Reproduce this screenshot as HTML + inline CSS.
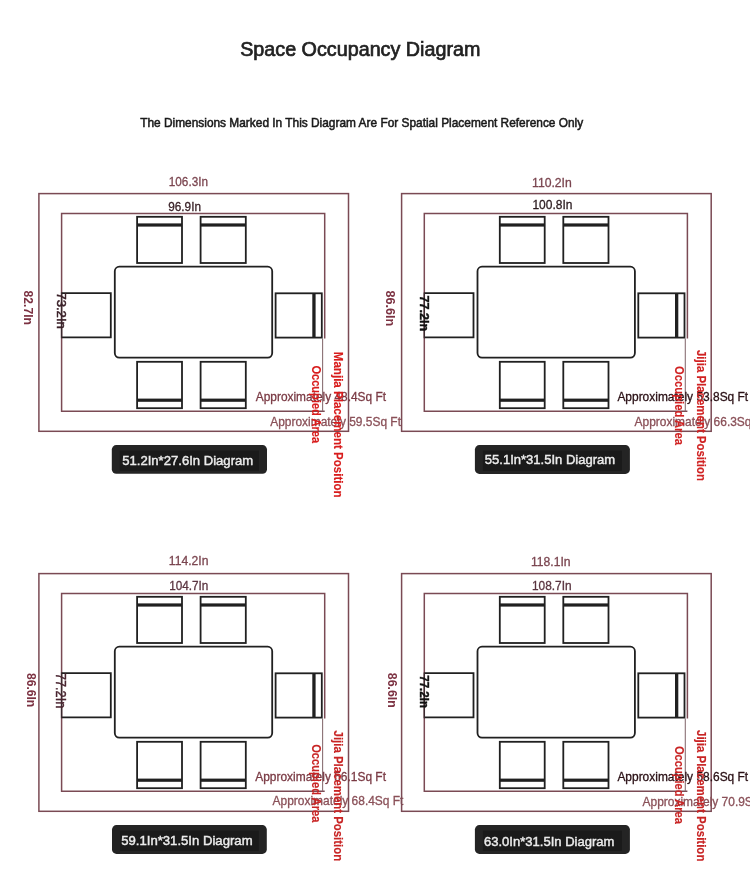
<!DOCTYPE html>
<html><head><meta charset="utf-8"><title>Space Occupancy Diagram</title>
<style>
html,body{margin:0;padding:0;background:#fff;}
body{width:750px;height:895px;overflow:hidden;}
svg{display:block;font-family:"Liberation Sans", sans-serif;will-change:transform;}
</style></head>
<body>
<svg width="750" height="895" viewBox="0 0 750 895">
<rect class="shape" x="0" y="0" width="750" height="895" fill="#ffffff"/>
<text id="title" class="t" x="240.20" y="55.70" font-size="19.91" fill="#222222" font-weight="normal" textLength="240.20" lengthAdjust="spacingAndGlyphs" stroke="#222222" stroke-width="0.7">Space Occupancy Diagram</text>
<text id="sub" class="t" x="140.20" y="126.80" font-size="12.79" fill="#1a1a1a" font-weight="normal" textLength="443.00" lengthAdjust="spacingAndGlyphs" stroke="#1a1a1a" stroke-width="0.55">The Dimensions Marked In This Diagram Are For Spatial Placement Reference Only</text>
<g class="shape"><rect x="38.90" y="193.60" width="309.6" height="237.7" fill="none" stroke="#7a4a54" stroke-width="1.5"/>
<path d="M324.70,338.50 V213.40 H61.60 V411.20 H324.70" fill="none" stroke="#7a4a54" stroke-width="1.5"/>
<line x1="322.60" y1="338.50" x2="322.60" y2="411.20" stroke="#8a7074" stroke-width="1.1"/><rect x="137.10" y="216.80" width="44.90" height="46.20" rx="0" fill="none" stroke="#202020" stroke-width="1.8"/>
<rect x="137.10" y="223.40" width="44.90" height="3.20" fill="#202020"/>
<rect x="200.60" y="216.80" width="45.20" height="46.20" rx="0" fill="none" stroke="#202020" stroke-width="1.8"/>
<rect x="200.60" y="223.40" width="45.20" height="3.20" fill="#202020"/>
<rect x="114.80" y="266.70" width="157.40" height="90.90" rx="4.5" fill="none" stroke="#202020" stroke-width="1.8"/>
<path d="M61.60,293.20 H110.80 V337.40 H61.60" fill="none" stroke="#202020" stroke-width="1.8" stroke-linejoin="miter"/>
<line x1="61.60" y1="292.40" x2="61.60" y2="338.20" stroke="#3a2a2e" stroke-width="1.4"/>
<rect x="275.60" y="293.30" width="46.20" height="44.30" rx="0" fill="none" stroke="#202020" stroke-width="1.8"/>
<rect x="312.30" y="293.30" width="3.30" height="44.30" fill="#202020"/>
<rect x="137.10" y="361.80" width="44.90" height="46.40" rx="0" fill="none" stroke="#202020" stroke-width="1.8"/>
<rect x="137.10" y="398.60" width="44.90" height="3.20" fill="#202020"/>
<rect x="200.60" y="361.80" width="45.20" height="46.40" rx="0" fill="none" stroke="#202020" stroke-width="1.8"/>
<rect x="200.60" y="398.60" width="45.20" height="3.20" fill="#202020"/></g>
<text id="p1_top" class="t" x="168.80" y="186.00" font-size="13.08" fill="#7b4650" font-weight="normal" textLength="39.20" lengthAdjust="spacingAndGlyphs" stroke="#7b4650" stroke-width="0.3">106.3In</text>
<text id="p1_inner" class="t" x="168.20" y="210.70" font-size="12.65" fill="#3a2228" font-weight="normal" textLength="32.80" lengthAdjust="spacingAndGlyphs" stroke="#3a2228" stroke-width="0.3">96.9In</text>
<text id="p1_left" class="t" transform="translate(23.80,290.60) rotate(90)" x="0" y="0" font-size="12.97" fill="#7c3242" font-weight="bold" textLength="34.40" lengthAdjust="spacingAndGlyphs">82.7In</text>
<text id="p1_ileft" class="t" transform="translate(57.00,292.40) rotate(90)" x="0" y="0" font-size="12.97" fill="#3a2028" font-weight="normal" textLength="36.40" lengthAdjust="spacingAndGlyphs" stroke="#3a2028" stroke-width="0.45">73.2In</text>
<text id="p1_ap1" class="t" x="255.80" y="400.80" font-size="12.79" fill="#7a3a44" font-weight="normal" textLength="130.20" lengthAdjust="spacingAndGlyphs" stroke="#7a3a44" stroke-width="0.3">Approximately 48.4Sq Ft</text>
<text id="p1_ap2" class="t" x="270.20" y="425.70" font-size="12.21" fill="#8a5058" font-weight="normal" textLength="130.80" lengthAdjust="spacingAndGlyphs" stroke="#8a5058" stroke-width="0.3">Approximately 59.5Sq Ft</text>
<text id="p1_occ" class="t" transform="translate(312.00,365.40) rotate(90)" x="0" y="0" font-size="12.69" fill="#d81c1c" font-weight="bold" textLength="77.80" lengthAdjust="spacingAndGlyphs" stroke="#d81c1c" stroke-width="0.15">Occupied Area</text>
<text id="p1_pos" class="t" transform="translate(334.00,351.80) rotate(90)" x="0" y="0" font-size="12.55" fill="#d81c1c" font-weight="bold" textLength="145.80" lengthAdjust="spacingAndGlyphs" stroke="#d81c1c" stroke-width="0.15">Manjia Placement Position</text>
<rect class="shape" x="111.80" y="445.10" width="155.20" height="28.70" rx="4.5" fill="#242424"/>
<rect class="shape" x="119.80" y="450.60" width="139.20" height="20.20" fill="#1a1a1a"/>
<text id="p1_btn" class="t" x="122.20" y="465.00" font-size="13.66" fill="#ececec" font-weight="normal" textLength="131.00" lengthAdjust="spacingAndGlyphs" stroke="#ececec" stroke-width="0.45">51.2In*27.6In Diagram</text>
<g class="shape"><rect x="401.60" y="193.60" width="309.6" height="237.7" fill="none" stroke="#7a4a54" stroke-width="1.5"/>
<path d="M687.40,338.50 V213.40 H424.30 V411.20 H687.40" fill="none" stroke="#7a4a54" stroke-width="1.5"/>
<line x1="685.30" y1="338.50" x2="685.30" y2="411.20" stroke="#8a7074" stroke-width="1.1"/><rect x="499.80" y="216.80" width="44.90" height="46.20" rx="0" fill="none" stroke="#202020" stroke-width="1.8"/>
<rect x="499.80" y="223.40" width="44.90" height="3.20" fill="#202020"/>
<rect x="563.30" y="216.80" width="45.20" height="46.20" rx="0" fill="none" stroke="#202020" stroke-width="1.8"/>
<rect x="563.30" y="223.40" width="45.20" height="3.20" fill="#202020"/>
<rect x="477.50" y="266.70" width="157.40" height="90.90" rx="4.5" fill="none" stroke="#202020" stroke-width="1.8"/>
<path d="M424.30,293.20 H473.50 V337.40 H424.30" fill="none" stroke="#202020" stroke-width="1.8" stroke-linejoin="miter"/>
<line x1="424.30" y1="292.40" x2="424.30" y2="338.20" stroke="#3a2a2e" stroke-width="1.4"/>
<rect x="638.30" y="293.30" width="46.20" height="44.30" rx="0" fill="none" stroke="#202020" stroke-width="1.8"/>
<rect x="675.00" y="293.30" width="3.30" height="44.30" fill="#202020"/>
<rect x="499.80" y="361.80" width="44.90" height="46.40" rx="0" fill="none" stroke="#202020" stroke-width="1.8"/>
<rect x="499.80" y="398.60" width="44.90" height="3.20" fill="#202020"/>
<rect x="563.30" y="361.80" width="45.20" height="46.40" rx="0" fill="none" stroke="#202020" stroke-width="1.8"/>
<rect x="563.30" y="398.60" width="45.20" height="3.20" fill="#202020"/></g>
<text id="p2_top" class="t" x="532.00" y="187.00" font-size="12.79" fill="#7b4650" font-weight="normal" textLength="39.80" lengthAdjust="spacingAndGlyphs" stroke="#7b4650" stroke-width="0.3">110.2In</text>
<text id="p2_inner" class="t" x="532.40" y="208.70" font-size="12.65" fill="#2a1a1e" font-weight="normal" textLength="40.00" lengthAdjust="spacingAndGlyphs" stroke="#2a1a1e" stroke-width="0.3">100.8In</text>
<text id="p2_left" class="t" transform="translate(386.00,290.40) rotate(90)" x="0" y="0" font-size="13.68" fill="#7c3242" font-weight="bold" textLength="35.80" lengthAdjust="spacingAndGlyphs">86.6In</text>
<text id="p2_ileft" class="t" transform="translate(420.00,295.40) rotate(90)" x="0" y="0" font-size="12.97" fill="#111111" font-weight="bold" textLength="35.80" lengthAdjust="spacingAndGlyphs" stroke="#111111" stroke-width="0.4">77.2In</text>
<text id="p2_ap1" class="t" x="617.40" y="401.00" font-size="12.50" fill="#2a1015" font-weight="normal" textLength="130.80" lengthAdjust="spacingAndGlyphs" stroke="#2a1015" stroke-width="0.3">Approximately 53.8Sq Ft</text>
<text id="p2_ap2" class="t" x="634.60" y="425.60" font-size="11.92" fill="#8a5058" font-weight="normal" textLength="130.80" lengthAdjust="spacingAndGlyphs" stroke="#8a5058" stroke-width="0.3">Approximately 66.3Sq Ft</text>
<text id="p2_occ" class="t" transform="translate(674.70,366.00) rotate(90)" x="0" y="0" font-size="12.69" fill="#d02222" font-weight="bold" textLength="79.00" lengthAdjust="spacingAndGlyphs" stroke="#d02222" stroke-width="0.15">Occupied Area</text>
<text id="p2_pos" class="t" transform="translate(696.70,350.00) rotate(90)" x="0" y="0" font-size="12.55" fill="#d02222" font-weight="bold" textLength="131.00" lengthAdjust="spacingAndGlyphs" stroke="#d02222" stroke-width="0.15">Jijia Placement Position</text>
<rect class="shape" x="474.90" y="445.10" width="155.00" height="28.80" rx="4.5" fill="#242424"/>
<rect class="shape" x="482.90" y="450.60" width="139.00" height="20.30" fill="#1a1a1a"/>
<text id="p2_btn" class="t" x="484.80" y="464.00" font-size="13.52" fill="#ececec" font-weight="normal" textLength="130.40" lengthAdjust="spacingAndGlyphs" stroke="#ececec" stroke-width="0.45">55.1In*31.5In Diagram</text>
<g class="shape"><rect x="38.90" y="573.60" width="309.6" height="237.7" fill="none" stroke="#7a4a54" stroke-width="1.5"/>
<path d="M324.70,718.50 V593.40 H61.60 V791.20 H324.70" fill="none" stroke="#7a4a54" stroke-width="1.5"/>
<line x1="322.60" y1="718.50" x2="322.60" y2="791.20" stroke="#8a7074" stroke-width="1.1"/><rect x="137.10" y="596.80" width="44.90" height="46.20" rx="0" fill="none" stroke="#202020" stroke-width="1.8"/>
<rect x="137.10" y="603.40" width="44.90" height="3.20" fill="#202020"/>
<rect x="200.60" y="596.80" width="45.20" height="46.20" rx="0" fill="none" stroke="#202020" stroke-width="1.8"/>
<rect x="200.60" y="603.40" width="45.20" height="3.20" fill="#202020"/>
<rect x="114.80" y="646.70" width="157.40" height="90.90" rx="4.5" fill="none" stroke="#202020" stroke-width="1.8"/>
<path d="M61.60,673.20 H110.80 V717.40 H61.60" fill="none" stroke="#202020" stroke-width="1.8" stroke-linejoin="miter"/>
<line x1="61.60" y1="672.40" x2="61.60" y2="718.20" stroke="#3a2a2e" stroke-width="1.4"/>
<rect x="275.60" y="673.30" width="46.20" height="44.30" rx="0" fill="none" stroke="#202020" stroke-width="1.8"/>
<rect x="312.30" y="673.30" width="3.30" height="44.30" fill="#202020"/>
<rect x="137.10" y="741.80" width="44.90" height="46.40" rx="0" fill="none" stroke="#202020" stroke-width="1.8"/>
<rect x="137.10" y="778.60" width="44.90" height="3.20" fill="#202020"/>
<rect x="200.60" y="741.80" width="45.20" height="46.40" rx="0" fill="none" stroke="#202020" stroke-width="1.8"/>
<rect x="200.60" y="778.60" width="45.20" height="3.20" fill="#202020"/></g>
<text id="p3_top" class="t" x="168.80" y="565.00" font-size="12.35" fill="#7b4650" font-weight="normal" textLength="39.60" lengthAdjust="spacingAndGlyphs" stroke="#7b4650" stroke-width="0.3">114.2In</text>
<text id="p3_inner" class="t" x="169.20" y="589.70" font-size="12.21" fill="#5a3540" font-weight="normal" textLength="39.20" lengthAdjust="spacingAndGlyphs" stroke="#5a3540" stroke-width="0.3">104.7In</text>
<text id="p3_left" class="t" transform="translate(27.00,673.00) rotate(90)" x="0" y="0" font-size="12.83" fill="#7c3242" font-weight="bold" textLength="34.20" lengthAdjust="spacingAndGlyphs">86.6In</text>
<text id="p3_ileft" class="t" transform="translate(56.20,673.00) rotate(90)" x="0" y="0" font-size="14.24" fill="#4a2530" font-weight="normal" textLength="35.20" lengthAdjust="spacingAndGlyphs" stroke="#4a2530" stroke-width="0.4">77.2In</text>
<text id="p3_ap1" class="t" x="255.20" y="781.40" font-size="12.35" fill="#7a3a44" font-weight="normal" textLength="130.80" lengthAdjust="spacingAndGlyphs" stroke="#7a3a44" stroke-width="0.3">Approximately 56.1Sq Ft</text>
<text id="p3_ap2" class="t" x="272.60" y="805.10" font-size="12.35" fill="#8a5058" font-weight="normal" textLength="130.80" lengthAdjust="spacingAndGlyphs" stroke="#8a5058" stroke-width="0.3">Approximately 68.4Sq Ft</text>
<text id="p3_occ" class="t" transform="translate(312.10,744.20) rotate(90)" x="0" y="0" font-size="12.69" fill="#c82424" font-weight="bold" textLength="78.20" lengthAdjust="spacingAndGlyphs" stroke="#c82424" stroke-width="0.15">Occupied Area</text>
<text id="p3_pos" class="t" transform="translate(334.20,730.60) rotate(90)" x="0" y="0" font-size="12.83" fill="#c82424" font-weight="bold" textLength="130.60" lengthAdjust="spacingAndGlyphs" stroke="#c82424" stroke-width="0.15">Jijia Placement Position</text>
<rect class="shape" x="112.00" y="825.10" width="154.80" height="28.80" rx="4.5" fill="#242424"/>
<rect class="shape" x="120.00" y="830.60" width="138.80" height="20.30" fill="#1a1a1a"/>
<text id="p3_btn" class="t" x="121.20" y="845.00" font-size="13.66" fill="#ececec" font-weight="normal" textLength="131.40" lengthAdjust="spacingAndGlyphs" stroke="#ececec" stroke-width="0.45">59.1In*31.5In Diagram</text>
<g class="shape"><rect x="401.60" y="573.60" width="309.6" height="237.7" fill="none" stroke="#7a4a54" stroke-width="1.5"/>
<path d="M687.40,718.50 V593.40 H424.30 V791.20 H687.40" fill="none" stroke="#7a4a54" stroke-width="1.5"/>
<line x1="685.30" y1="718.50" x2="685.30" y2="791.20" stroke="#8a7074" stroke-width="1.1"/><rect x="499.80" y="596.80" width="44.90" height="46.20" rx="0" fill="none" stroke="#202020" stroke-width="1.8"/>
<rect x="499.80" y="603.40" width="44.90" height="3.20" fill="#202020"/>
<rect x="563.30" y="596.80" width="45.20" height="46.20" rx="0" fill="none" stroke="#202020" stroke-width="1.8"/>
<rect x="563.30" y="603.40" width="45.20" height="3.20" fill="#202020"/>
<rect x="477.50" y="646.70" width="157.40" height="90.90" rx="4.5" fill="none" stroke="#202020" stroke-width="1.8"/>
<path d="M424.30,673.20 H473.50 V717.40 H424.30" fill="none" stroke="#202020" stroke-width="1.8" stroke-linejoin="miter"/>
<line x1="424.30" y1="672.40" x2="424.30" y2="718.20" stroke="#3a2a2e" stroke-width="1.4"/>
<rect x="638.30" y="673.30" width="46.20" height="44.30" rx="0" fill="none" stroke="#202020" stroke-width="1.8"/>
<rect x="675.00" y="673.30" width="3.30" height="44.30" fill="#202020"/>
<rect x="499.80" y="741.80" width="44.90" height="46.40" rx="0" fill="none" stroke="#202020" stroke-width="1.8"/>
<rect x="499.80" y="778.60" width="44.90" height="3.20" fill="#202020"/>
<rect x="563.30" y="741.80" width="45.20" height="46.40" rx="0" fill="none" stroke="#202020" stroke-width="1.8"/>
<rect x="563.30" y="778.60" width="45.20" height="3.20" fill="#202020"/></g>
<text id="p4_top" class="t" x="531.00" y="565.70" font-size="12.21" fill="#7b4650" font-weight="normal" textLength="39.60" lengthAdjust="spacingAndGlyphs" stroke="#7b4650" stroke-width="0.3">118.1In</text>
<text id="p4_inner" class="t" x="532.00" y="590.00" font-size="12.21" fill="#5a3540" font-weight="normal" textLength="39.60" lengthAdjust="spacingAndGlyphs" stroke="#5a3540" stroke-width="0.3">108.7In</text>
<text id="p4_left" class="t" transform="translate(388.00,672.80) rotate(90)" x="0" y="0" font-size="12.97" fill="#7c3242" font-weight="bold" textLength="35.00" lengthAdjust="spacingAndGlyphs">86.6In</text>
<text id="p4_ileft" class="t" transform="translate(420.00,675.20) rotate(90)" x="0" y="0" font-size="12.97" fill="#111111" font-weight="bold" textLength="32.80" lengthAdjust="spacingAndGlyphs" stroke="#111111" stroke-width="0.4">77.2In</text>
<text id="p4_ap1" class="t" x="617.40" y="781.40" font-size="12.21" fill="#2a1015" font-weight="normal" textLength="130.80" lengthAdjust="spacingAndGlyphs" stroke="#2a1015" stroke-width="0.3">Approximately 58.6Sq Ft</text>
<text id="p4_ap2" class="t" x="642.60" y="805.60" font-size="12.50" fill="#8a5058" font-weight="normal" textLength="130.80" lengthAdjust="spacingAndGlyphs" stroke="#8a5058" stroke-width="0.3">Approximately 70.9Sq Ft</text>
<text id="p4_occ" class="t" transform="translate(674.80,746.00) rotate(90)" x="0" y="0" font-size="12.69" fill="#c82424" font-weight="bold" textLength="77.80" lengthAdjust="spacingAndGlyphs" stroke="#c82424" stroke-width="0.15">Occupied Area</text>
<text id="p4_pos" class="t" transform="translate(696.80,730.00) rotate(90)" x="0" y="0" font-size="12.83" fill="#c82424" font-weight="bold" textLength="131.40" lengthAdjust="spacingAndGlyphs" stroke="#c82424" stroke-width="0.15">Jijia Placement Position</text>
<rect class="shape" x="474.90" y="825.10" width="155.00" height="28.80" rx="4.5" fill="#242424"/>
<rect class="shape" x="482.90" y="830.60" width="139.00" height="20.30" fill="#1a1a1a"/>
<text id="p4_btn" class="t" x="484.00" y="845.80" font-size="13.66" fill="#ececec" font-weight="normal" textLength="130.40" lengthAdjust="spacingAndGlyphs" stroke="#ececec" stroke-width="0.45">63.0In*31.5In Diagram</text>
</svg>
</body></html>
